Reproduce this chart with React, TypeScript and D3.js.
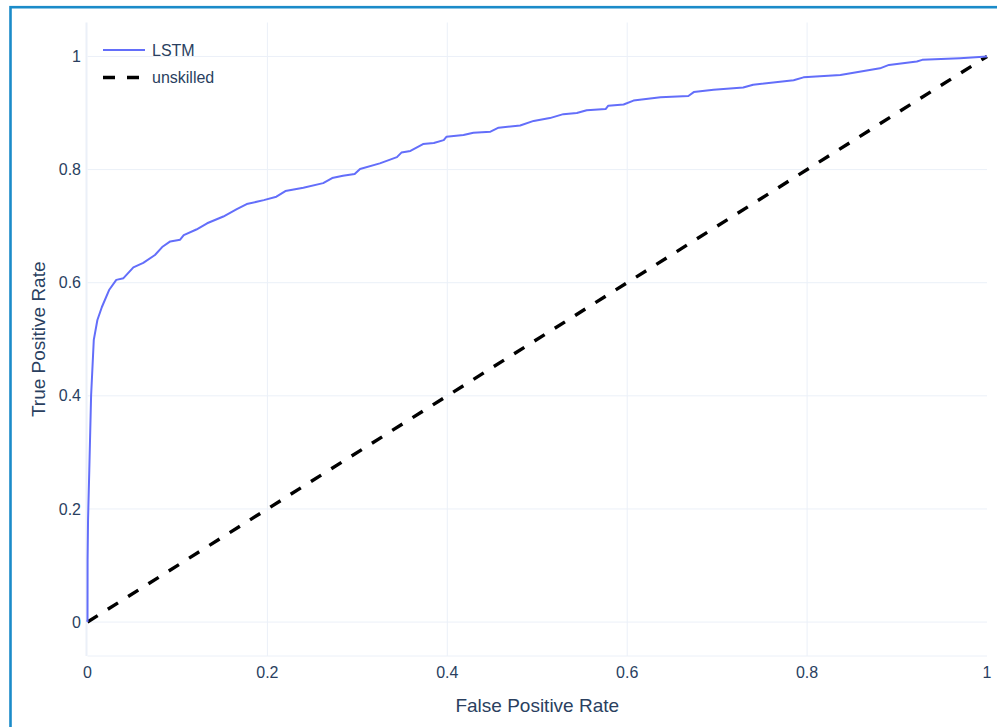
import React from 'react';
import * as d3 from 'd3';

// ROC curve
const lstmFpr = [
  0, 0.0001, 0.0006, 0.002, 0.004, 0.007, 0.011, 0.016, 0.024, 0.032, 0.04, 0.051,
  0.062, 0.075, 0.083, 0.092, 0.103, 0.107, 0.121, 0.133, 0.151, 0.166, 0.177,
  0.196, 0.21, 0.22, 0.24, 0.262, 0.272, 0.284, 0.297, 0.303, 0.325, 0.344, 0.349,
  0.359, 0.373, 0.385, 0.396, 0.399, 0.418, 0.429, 0.448, 0.457, 0.481, 0.496,
  0.514, 0.529, 0.544, 0.555, 0.576, 0.579, 0.596, 0.607, 0.637, 0.668, 0.674,
  0.696, 0.729, 0.74, 0.785, 0.796, 0.837, 0.881, 0.891, 0.922, 0.928, 0.97, 1,
];
const lstmTpr = [
  0, 0.11, 0.18, 0.269, 0.4, 0.499, 0.534, 0.557, 0.587, 0.605, 0.608, 0.627,
  0.635, 0.649, 0.663, 0.673, 0.676, 0.684, 0.694, 0.705, 0.717, 0.73, 0.739,
  0.746, 0.752, 0.762, 0.768, 0.776, 0.785, 0.789, 0.792, 0.801, 0.811, 0.822, 0.83,
  0.833, 0.845, 0.847, 0.852, 0.858, 0.861, 0.865, 0.867, 0.874, 0.878, 0.886,
  0.891, 0.898, 0.9, 0.905, 0.907, 0.913, 0.915, 0.922, 0.928, 0.93, 0.937,
  0.941, 0.945, 0.95, 0.958, 0.963, 0.967, 0.979, 0.985, 0.991, 0.994, 0.997, 1,
];
const unskilledFpr = [0, 1];
const unskilledTpr = [0, 1];

const xTicks = [0, 0.2, 0.4, 0.6, 0.8, 1];
const yTicks = [0, 0.2, 0.4, 0.6, 0.8, 1];
const legendNames = ['LSTM', 'unskilled'];

const W = 997;
const H = 727;
const FONT = '"Liberation Sans", Arial, sans-serif';
const GRID = '#ebf0f8';
const TEXT = '#2a3f5f';

export default function App() {
  const x = d3.scaleLinear().domain([0, 1]).range([87.5, 987]);
  const y = d3.scaleLinear().domain([-0.06, 1.06]).range([656, 22.5]);

  const line = d3
    .line<[number, number]>()
    .x((d) => x(d[0]))
    .y((d) => y(d[1]));

  const lstmPts = lstmFpr.map((f, i) => [f, lstmTpr[i]] as [number, number]);
  const diagPts = unskilledFpr.map((f, i) => [f, unskilledTpr[i]] as [number, number]);

  const [y0, y1] = y.range();

  return (
    <svg
      width={W}
      height={H}
      style={{ position: 'absolute', left: 0, top: 0, background: '#fff' }}
      fontFamily={FONT}
    >
      <rect x={10.5} y={7.2} width={1000} height={800} fill="#fff" stroke="#1b8bc9" strokeWidth={2.6} />

      {/* grid */}
      {xTicks.filter((t) => t > 0 && t < 1).map((t) => (
        <line key={'gx' + t} x1={x(t)} x2={x(t)} y1={y0} y2={y1} stroke={GRID} strokeWidth={1} />
      ))}
      {yTicks.map((t) => (
        <line key={'gy' + t} x1={x(0)} x2={x(1)} y1={y(t)} y2={y(t)} stroke={GRID} strokeWidth={1} />
      ))}
      <line x1={x(0)} x2={x(1)} y1={y0} y2={y0} stroke={GRID} strokeWidth={1} />
      <line x1={x(0) - 1} x2={x(0) - 1} y1={y0} y2={y1} stroke={GRID} strokeWidth={2} />

      {/* tick labels */}
      {xTicks.map((t) => (
        <text key={'tx' + t} x={x(t)} y={678} textAnchor="middle" fontSize={16} fill={TEXT}>
          {d3.format('~g')(t)}
        </text>
      ))}
      {yTicks.map((t) => (
        <text key={'ty' + t} x={81} y={y(t)} dy="0.35em" textAnchor="end" fontSize={16} fill={TEXT}>
          {d3.format('~g')(t)}
        </text>
      ))}

      {/* axis titles */}
      <text x={(x(0) + x(1)) / 2} y={712} textAnchor="middle" fontSize={19} fill={TEXT}>
        False Positive Rate
      </text>
      <text
        transform={`translate(45,${(y0 + y1) / 2}) rotate(-90)`}
        textAnchor="middle"
        fontSize={19}
        fill={TEXT}
      >
        True Positive Rate
      </text>

      {/* series */}
      <path d={line(diagPts) ?? ''} fill="none" stroke="#000" strokeWidth={3.4} strokeDasharray="12,12" />
      <path d={line(lstmPts) ?? ''} fill="none" stroke="#636efa" strokeWidth={2} strokeLinejoin="round" />

      {/* legend */}
      <g>
        <line x1={103} x2={145} y1={50} y2={50} stroke="#636efa" strokeWidth={2} />
        <text x={152} y={50} dy="0.35em" fontSize={16} fill={TEXT}>{legendNames[0]}</text>
        <line x1={103} x2={145} y1={77.5} y2={77.5} stroke="#000" strokeWidth={3.4} strokeDasharray="12,12" />
        <text x={152} y={77.5} dy="0.35em" fontSize={16} fill={TEXT}>{legendNames[1]}</text>
      </g>
    </svg>
  );
}
